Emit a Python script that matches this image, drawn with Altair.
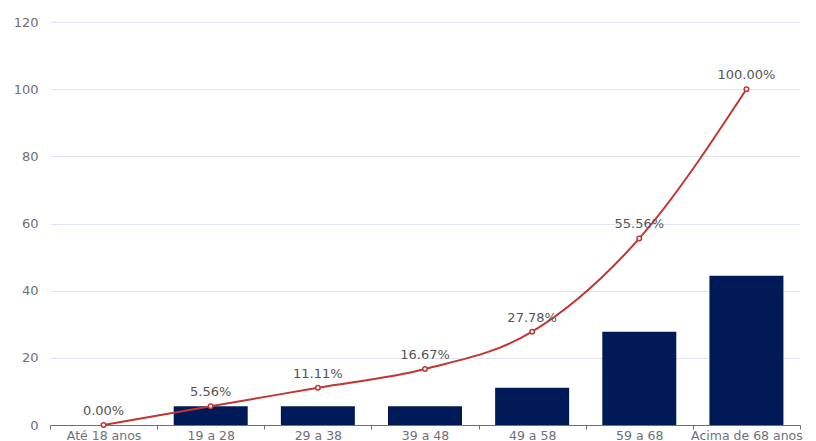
import altair as alt
import pandas as pd

categories = ["Até 18 anos", "19 a 28", "29 a 38", "39 a 48", "49 a 58", "59 a 68", "Acima de 68 anos"]
bar_values = [0, 5.56, 5.56, 5.56, 11.11, 27.78, 44.44]
cum_values = [0.0, 5.56, 11.11, 16.67, 27.78, 55.56, 100.0]
cum_labels = ["0.00%", "5.56%", "11.11%", "16.67%", "27.78%", "55.56%", "100.00%"]

df = pd.DataFrame({"cat": categories, "bar": bar_values, "cum": cum_values, "lab": cum_labels})

FONT = "DejaVu Sans"
x = alt.X("cat:N", sort=categories, title=None,
          scale=alt.Scale(paddingInner=0, paddingOuter=0),
          axis=alt.Axis(labelAngle=0, labelColor="#6e7079", labelFontSize=12.5, labelFont=FONT,
                        domainColor="#6e7079", tickColor="#6e7079", tickBand="extent",
                        tickSize=4, labelPadding=0, grid=False, labelOverlap=False,
                        labelBound=False))
yscale = alt.Scale(domain=[0, 120])
yaxis = alt.Axis(values=[0, 20, 40, 60, 80, 100, 120], title=None, domain=False, ticks=False,
                 labelColor="#6e7079", labelFontSize=13, labelFont=FONT, labelPadding=12,
                 gridColor="#e0e6f1")

bars = alt.Chart(df).mark_bar(size=74, color="#001a57").encode(
    x=x, y=alt.Y("bar:Q", scale=yscale, axis=yaxis))

line = alt.Chart(df).mark_line(color="#c23531", strokeWidth=2, interpolate="monotone").encode(
    x=x, y=alt.Y("cum:Q", scale=yscale))

pts = alt.Chart(df).mark_point(shape="circle", filled=True, fill="white", stroke="#c23531",
                               strokeWidth=1.5, size=20, opacity=1).encode(
    x=x, y=alt.Y("cum:Q", scale=yscale))

text = alt.Chart(df).mark_text(dy=-14, color="#555555", fontSize=13, font=FONT).encode(
    x=x, y=alt.Y("cum:Q", scale=yscale), text="lab:N")

chart = alt.layer(bars, line, pts, text).properties(
    width=750, height=403,
    autosize=alt.AutoSizeParams(type="none"),
    padding={"left": 42, "top": 14, "right": 8, "bottom": 16},
).configure_view(stroke=None)

chart.save("out.html", embed_options={"renderer": "svg", "actions": False})
